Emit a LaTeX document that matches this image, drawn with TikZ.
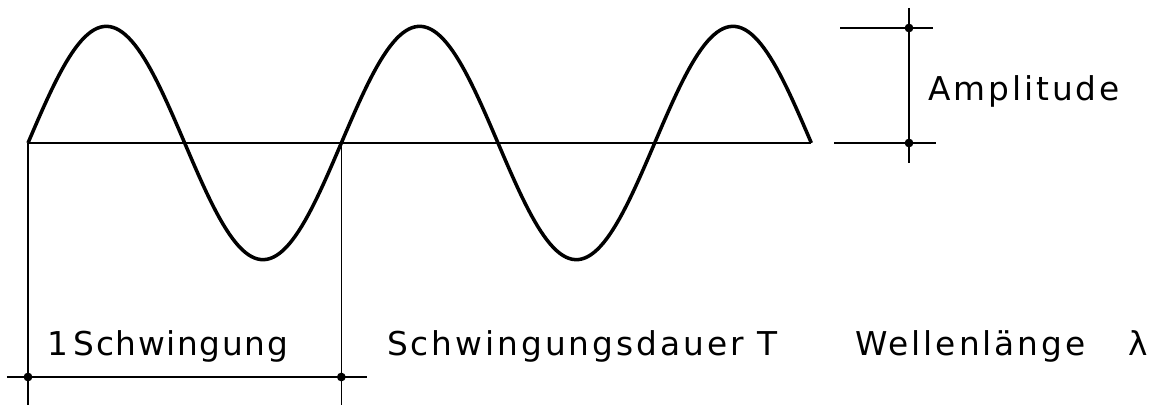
\documentclass[tikz,border=0pt]{standalone}
\usepackage{fontspec}
\setmainfont[LetterSpace=5]{DejaVu Sans}
\newfontfamily\widelettering[LetterSpace=9]{DejaVu Sans}
\tikzstyle{wave}=[line width=3pt,line join=round]
\tikzstyle{dimline}=[line width=1.2pt]
\tikzstyle{dot}=[circle,fill,inner sep=0pt,minimum size=7.5pt]
\tikzstyle{lettering}=[anchor=base west,inner sep=0pt,font=\fontsize{28}{34}\selectfont]
\tikzstyle{wide}=[lettering,font=\fontsize{28}{34}\widelettering]
\newcommand{\period}{9.4}

\begin{document}
\begin{tikzpicture}
\useasboundingbox (-0.84,-7.86) rectangle (34.05,4.29);
%wave, 2.5 periods
\draw[wave] plot[domain=0:2.5*\period,samples=250] (\x,{3.5*sin(\x/\period*360)});
%zero line
\coordinate (start) at (0,0);
\coordinate (finish) at (2.5*\period,0);
\draw[dimline] (start) -- (finish);
%one period
\node[dot] (p1) at (0,-7.02) {};
\node[dot] (p2) at (\period,-7.02) {};
\coordinate (zero1) at (\period,0);
\coordinate (foot1) at (0,-7.86);
\coordinate (foot2) at (\period,-7.86);
\coordinate (tail1) at (-0.63,-7.02);
\coordinate (tail2) at (10.17,-7.02);
\draw[dimline] (start) -- (foot1);
\draw[dimline] (zero1) -- (foot2);
\draw[dimline] (tail1) -- (tail2);
%amplitude
\node[dot] (a1) at (26.43,3.45) {};
\node[dot] (a2) at (26.43,0) {};
\coordinate (atop) at (26.43,4.05);
\coordinate (abot) at (26.43,-0.6);
\coordinate (a1l) at (24.36,3.45);
\coordinate (a1r) at (27.15,3.45);
\coordinate (a2l) at (24.18,0);
\coordinate (a2r) at (27.24,0);
\draw[dimline] (atop) -- (abot);
\draw[dimline] (a1l) -- (a1r);
\draw[dimline] (a2l) -- (a2r);
%texts
\node[wide] (amp) at (27.0,1.29) {Amplitude};
\node[lettering] (one) at (0.57,-6.36) {1\,Schwingung};
\node[wide] (dauer) at (10.77,-6.36) {Schwingungsdauer T};
\node[wide] (welle) at (24.81,-6.36) {Wellenlänge};
\node[lettering] (lambda) at (33.0,-6.36) {λ};
\end{tikzpicture}
\end{document}
